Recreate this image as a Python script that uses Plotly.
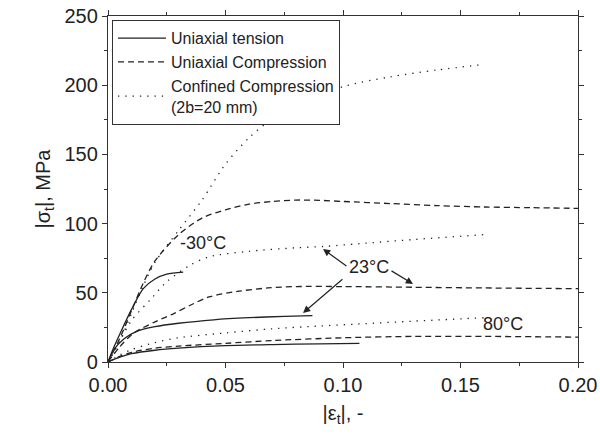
import plotly.graph_objects as go

# Uniaxial tension (solid)
t_m30_x = [0, 0.002, 0.005, 0.010, 0.015, 0.020, 0.025, 0.032]
t_m30_y = [0, 8.7, 20, 38, 53, 60, 63.5, 65]
t_23_x = [0, 0.003, 0.007, 0.012, 0.02, 0.03, 0.045, 0.06, 0.075, 0.087]
t_23_y = [0, 10, 17, 22, 25.5, 28, 30.5, 32, 33, 33.5]
t_80_x = [0, 0.005, 0.01, 0.02, 0.03, 0.05, 0.07, 0.09, 0.107]
t_80_y = [0, 3.5, 6, 8.5, 10, 11.8, 12.6, 13.1, 13.5]

# Uniaxial compression (dashed)
c_m30_x = [0, 0.005, 0.01, 0.015, 0.02, 0.03, 0.04, 0.05, 0.06, 0.07, 0.08, 0.09, 0.1, 0.12, 0.14, 0.16, 0.18, 0.2]
c_m30_y = [0, 17, 37, 57, 73, 92, 104, 110, 114, 116, 117, 116.8, 116, 114.5, 113, 112, 111.5, 111]
c_23_x = [0, 0.005, 0.011, 0.02, 0.028, 0.035, 0.043, 0.055, 0.068, 0.08, 0.1, 0.13, 0.16, 0.2]
c_23_y = [0, 11, 21, 29, 35, 41, 47, 51, 53.5, 54.5, 54.5, 54, 53.5, 53]
c_80_x = [0, 0.005, 0.01, 0.02, 0.03, 0.05, 0.07, 0.1, 0.13, 0.16, 0.2]
c_80_y = [0, 4, 7, 10, 11.5, 13.5, 15.5, 17.5, 18.5, 18.5, 18]

# Confined compression (dotted)
f_m30_x = [0, 0.005, 0.01, 0.015, 0.02, 0.03, 0.04, 0.05, 0.06, 0.07, 0.08, 0.1, 0.12, 0.14, 0.16]
f_m30_y = [0, 15, 35, 55, 72, 95, 117, 143, 162, 176, 186, 199, 206, 211, 215]
f_23_x = [0, 0.005, 0.01, 0.018, 0.025, 0.035, 0.043, 0.06, 0.08, 0.092, 0.107, 0.13, 0.16]
f_23_y = [0, 15, 30, 45, 58, 70, 76, 80, 82.5, 83.5, 85.5, 88.5, 92]
f_80_x = [0, 0.005, 0.01, 0.02, 0.03, 0.05, 0.07, 0.09, 0.107, 0.13, 0.16]
f_80_y = [0, 5, 9, 14, 17.5, 21, 24, 26, 27.5, 29.5, 32]

FONT = "Liberation Sans, Arial, sans-serif"
INK = "#222222"

fig = go.Figure()

def add(x, y, dash, name, show):
    fig.add_trace(go.Scatter(
        x=x, y=y, mode="lines",
        line=dict(color=INK, width=1.3, dash=dash, shape="spline", smoothing=0.8),
        name=name, legendgroup=name, showlegend=show, hoverinfo="skip"))

add(t_m30_x, t_m30_y, "solid", "Uniaxial tension", True)
add(t_23_x, t_23_y, "solid", "Uniaxial tension", False)
add(t_80_x, t_80_y, "solid", "Uniaxial tension", False)
add(c_m30_x, c_m30_y, "6px,4px", "Uniaxial Compression", True)
add(c_23_x, c_23_y, "6px,4px", "Uniaxial Compression", False)
add(c_80_x, c_80_y, "6px,4px", "Uniaxial Compression", False)
add(f_m30_x, f_m30_y, "1.3px,6px", "Confined Compression<br>(2b=20 mm)", True)
add(f_23_x, f_23_y, "1.3px,6px", "Confined Compression<br>(2b=20 mm)", False)
add(f_80_x, f_80_y, "1.3px,6px", "Confined Compression<br>(2b=20 mm)", False)

ann = [
    dict(x=0.0404, y=86, text="-30°C"),
    dict(x=0.111, y=68.6, text="23°C"),
    dict(x=0.168, y=27.5, text="80°C"),
]
for a in ann:
    fig.add_annotation(x=a["x"], y=a["y"], text=a["text"], showarrow=False,
                       font=dict(family=FONT, size=18, color=INK))

arrows = [
    (0.1021, 68.6, 0.0915, 81.6),
    (0.120, 66.5, 0.1298, 56.4),
    (0.1004, 60.7, 0.083, 35.4),
]
for tx, ty, hx, hy in arrows:
    fig.add_annotation(x=hx, y=hy, ax=tx, ay=ty, xref="x", yref="y", axref="x", ayref="y",
                       text="", showarrow=True, arrowhead=2, arrowsize=1.2,
                       arrowwidth=1.2, arrowcolor=INK)

axis_common = dict(
    showline=True, linecolor="#333333", linewidth=1.3, mirror="ticks",
    ticks="outside", ticklen=5, tickcolor="#333333", tickwidth=1,
    showgrid=False, zeroline=False, automargin=False, ticklabeloverflow="allow",
    tickfont=dict(family=FONT, size=20, color=INK),
    minor=dict(ticks="outside", ticklen=3, tickcolor="#333333"),
)

fig.update_xaxes(range=[0, 0.2], tickvals=[0, 0.05, 0.1, 0.15, 0.2],
                 ticktext=["0.00", "0.05", "0.10", "0.15", "0.20"],
                 title=dict(text="|ε<sub>t</sub>|, -", font=dict(family=FONT, size=20, color=INK), standoff=10),
                 **axis_common)
fig.update_xaxes(minor_dtick=0.025)
fig.update_yaxes(range=[0, 250], tickvals=[0, 50, 100, 150, 200, 250],
                 title=dict(text="|σ<sub>t</sub>|, MPa", font=dict(family=FONT, size=20, color=INK), standoff=8),
                 **axis_common)
fig.update_yaxes(minor_dtick=25)

fig.update_layout(
    width=600, height=437,
    margin=dict(l=108, r=22, t=16, b=75),
    paper_bgcolor="white", plot_bgcolor="white",
    font=dict(family=FONT, color=INK),
    hovermode=False,
    legend=dict(x=0.0085, y=0.988, xanchor="left", yanchor="top",
                bordercolor="#333333", borderwidth=1, bgcolor="white",
                font=dict(family=FONT, size=16, color=INK),
                tracegroupgap=0, itemwidth=48),
)

fig.write_html("out.html",
               config={"displayModeBar": False},
               post_script="document.body.style.margin='0';document.body.style.overflow='hidden';")
